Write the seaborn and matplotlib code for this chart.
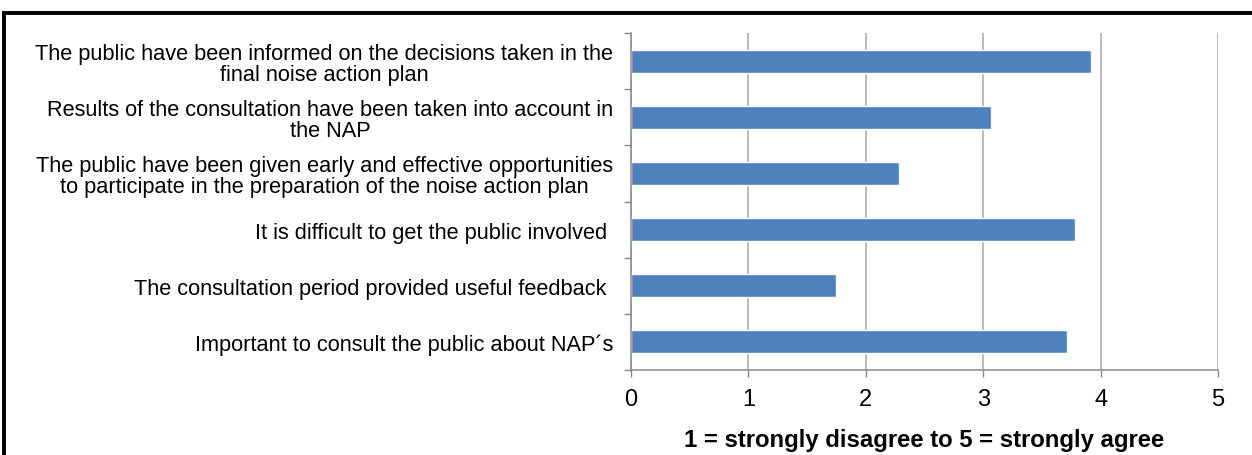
import matplotlib
matplotlib.use("Agg")
import matplotlib.pyplot as plt
from matplotlib.patches import Rectangle
import seaborn as sns

# survey statements, top to bottom
statements = [
    "The public have been informed on the decisions taken in the\nfinal noise action plan",
    "Results of the consultation have been taken into account in\nthe NAP",
    "The public have been given early and effective opportunities\nto participate in the preparation of the noise action plan",
    "It is difficult to get the public involved ",
    "The consultation period provided useful feedback ",
    "Important to consult the public about NAP\u00b4s",
]
scores = [3.92, 3.07, 2.28, 3.78, 1.75, 3.71]
x_ticks = [0, 1, 2, 3, 4, 5]
x_title = "1 = strongly disagree to 5 = strongly agree"

sns.set_style("white")
plt.rcParams["font.family"] = ["Liberation Sans", "DejaVu Sans"]
plt.rcParams["text.color"] = "black"
plt.rcParams["xtick.labelcolor"] = "black"
plt.rcParams["ytick.labelcolor"] = "black"
plt.rcParams["axes.labelcolor"] = "black"

fig = plt.figure(figsize=(12.52, 4.56), dpi=100)
ax = fig.add_axes([631 / 1252, 1 - 371 / 456, (1218 - 631) / 1252, (371 - 34) / 456])

sns.barplot(x=scores, y=statements, orient="h", color="#4F81BD",
            saturation=1, width=0.41, ax=ax)

ax.set_xlim(0, 5)
ax.set_ylim(5.5, -0.5)
ax.set_xticks(x_ticks)
ax.set_xticklabels([str(t) for t in x_ticks], fontsize=17)
ax.xaxis.grid(True, color="#A8A8A8", linewidth=1.1)
ax.set_axisbelow(True)

# category separators as minor ticks, like the spreadsheet chart
ax.set_yticks([i - 0.5 for i in range(len(statements) + 1)], minor=True)
ax.tick_params(axis="y", which="major", length=0, pad=13, labelsize=15.7)
ax.tick_params(axis="y", which="minor", length=5, color="#888888", width=1, direction="out", left=True)
ax.tick_params(axis="x", which="major", length=5, color="#888888", width=1, direction="out", bottom=True, pad=8)
for lbl in ax.get_yticklabels():
    lbl.set_multialignment("center")
    lbl.set_linespacing(1.02)

for side in ["top", "right"]:
    ax.spines[side].set_visible(False)
for side in ["left", "bottom"]:
    ax.spines[side].set_color("#888888")
    ax.spines[side].set_linewidth(1.1)

ax.set_xlabel(x_title, fontsize=17.2, fontweight="bold", labelpad=13)
ax.set_ylabel("")

# outer frame of the original figure
fig.patches.append(Rectangle((4 / 1252, -0.1), 1.2, 1.1 - 14 / 456,
                             transform=fig.transFigure, fill=False,
                             edgecolor="black", linewidth=2.8))

fig.savefig("out.png", dpi=100)
